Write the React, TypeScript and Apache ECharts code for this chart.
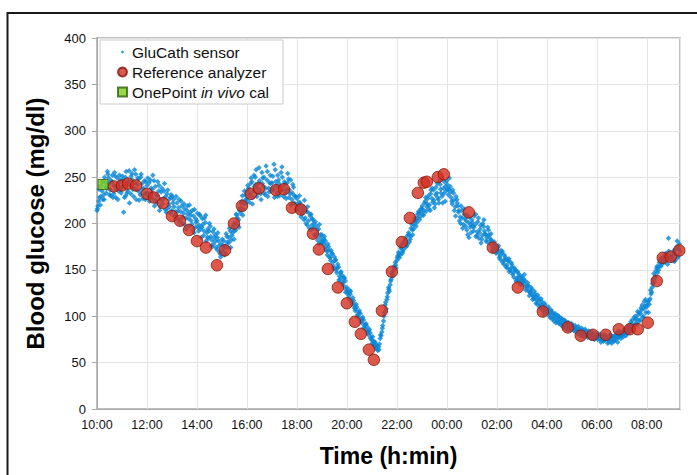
import React, { useEffect, useRef } from "react";
import * as echarts from "echarts";

// ---- data (hours since 10:00, mg/dl) ----
const xTickLabels = ["10:00", "12:00", "14:00", "16:00", "18:00", "20:00", "22:00", "00:00", "02:00", "04:00", "06:00", "08:00"];
const xMaxHours = 23.33;

// GluCath sensor readings, one every 4 minutes starting at 10:00 (one row per hour)
const sensorStepMin = 4;
const sensorValuesA = [
  214, 224, 220, 235, 231, 244, 238, 249, 236, 245, 232, 251, 240, 235, 247,
  239, 212, 250, 233, 246, 241, 254, 229, 244, 236, 248, 231, 243, 238, 226,
  241, 229, 247, 233, 226, 240, 222, 235, 218, 238, 227, 215, 232, 221, 228,
  214, 226, 209, 222, 217, 204, 219, 211, 198, 214, 205, 212, 199, 208, 196,
  203, 192, 208, 196, 187, 201, 190, 184, 197, 182, 178, 188, 172, 181, 167,
  170, 181, 176, 186, 179, 192, 187, 199, 201, 209, 204, 217, 224, 215, 231,
  226, 238, 232, 245, 235, 250, 229, 243, 236, 255, 240, 231, 247, 238, 252,
  244, 236, 258, 233, 247, 240, 261, 229, 243, 237, 248, 232, 226, 239, 221,
  227, 214, 222, 210, 218, 206, 213, 203, 208, 198, 195, 202, 189, 194, 185,
  188, 178, 181, 170, 175, 163, 168, 154, 160, 147, 153, 140, 144, 133, 138,
  131, 122, 124, 113, 117, 106, 110, 99, 103, 93, 96, 86, 89, 80, 82,
  74, 70, 72, 65, 67, 76, 83, 95, 112, 118, 131, 134, 147, 149, 158,
  160, 169, 166, 178, 172, 184, 176, 190, 183, 199, 194, 206, 201, 213, 207,
  216, 209, 224, 218, 230, 214, 227, 236, 221, 233, 226, 242, 229, 238, 224,
  246, 231, 240, 224, 233, 218, 226, 212, 207, 214, 199, 205, 193, 201, 196,
  204, 192, 199, 187, 206, 194, 183, 197, 189, 185, 193, 178, 182, 171, 176,
  170, 176, 165, 168, 160, 164, 155, 159, 151, 156, 147, 150, 141, 146, 139,
  142, 135, 138, 130, 133, 126, 129, 121, 124, 117, 120, 113, 116, 109, 112,
  106, 110, 102, 105, 99, 103, 96, 100, 94, 97, 91, 95, 90, 93, 88,
  92, 87, 90, 85, 89, 83, 87, 82, 86, 80, 84, 79, 83, 78, 81,
  77, 81, 75, 79, 73, 78, 76, 74, 80, 71, 78, 75, 82, 77, 80,
  83, 78, 86, 81, 89, 84, 92, 87, 97, 91, 102, 96, 107, 100, 111,
  110, 104, 119, 126, 140, 143, 152, 150, 161, 156, 164, 159, 166, 184, 163,
  162, 168, 160, 175, 165, 170,
];
// second set of sensor readings, 1 minute after each of the first set
const sensorOffsetMinB = 1;
const sensorValuesB = [
  216, 237, 229, 245, 226, 239, 256, 243, 230, 252, 241, 228, 249, 244, 236,
  251, 241, 230, 244, 257, 232, 247, 238, 253, 242, 225, 250, 237, 231, 245,
  233, 244, 228, 237, 246, 225, 230, 241, 226, 221, 235, 229, 216, 226, 211,
  229, 218, 213, 205, 226, 213, 200, 221, 206, 219, 197, 209, 214, 190, 205,
  211, 198, 194, 205, 192, 209, 185, 192, 186, 175, 194, 181, 185, 176, 164,
  183, 173, 168, 180, 185, 174, 190, 183, 193, 206, 196, 211, 230, 221, 226,
  235, 230, 243, 221, 252, 242, 238, 260, 232, 243, 250, 238, 256, 234, 243,
  238, 264, 245, 229, 243, 236, 250, 241, 233, 244, 228, 247, 233, 222, 229,
  216, 223, 218, 212, 204, 214, 198, 211, 193, 205, 200, 186, 193, 178, 188,
  179, 183, 175, 166, 171, 160, 167, 151, 161, 152, 139, 147, 135, 142, 126,
  126, 119, 127, 115, 112, 108, 100, 104, 94, 97, 88, 91, 82, 84, 76,
  71, 73, 66, 68, 64, 80, 87, 100, 115, 121, 129, 138, 145, 152, 155,
  163, 167, 175, 168, 179, 182, 178, 188, 186, 193, 199, 203, 206, 211, 213,
  219, 214, 228, 221, 216, 232, 238, 225, 231, 243, 222, 237, 249, 232, 240,
  242, 237, 234, 221, 225, 208, 222, 214, 200, 206, 216, 197, 209, 185, 199,
  201, 196, 210, 191, 184, 198, 187, 204, 188, 180, 188, 182, 170, 177, 172,
  172, 168, 161, 170, 156, 161, 152, 162, 149, 153, 142, 150, 139, 143, 134,
  139, 140, 132, 133, 127, 125, 123, 119, 121, 113, 117, 108, 112, 102, 108,
  104, 105, 98, 103, 95, 99, 94, 97, 91, 93, 88, 92, 86, 89, 85,
  90, 85, 86, 83, 84, 81, 82, 78, 84, 79, 81, 77, 79, 76, 77,
  79, 76, 78, 74, 80, 75, 77, 72, 79, 76, 73, 80, 77, 84, 79,
  81, 82, 84, 85, 90, 88, 96, 90, 100, 97, 104, 103, 112, 108, 118,
  112, 117, 128, 131, 146, 142, 154, 153, 159, 163, 158, 166, 161, 170, 165,
  164, 171, 167, 181, 173,
];
// third set of sensor readings, 2 minutes after each of the first set
const sensorOffsetMinC = 2;
const sensorValuesC = [
  219, 228, 241, 226, 250, 233, 253, 231, 246, 228, 255, 237, 226, 252, 233,
  247, 228, 256, 235, 222, 251, 237, 258, 226, 249, 234, 253, 227, 246, 233,
  249, 224, 238, 252, 219, 231, 245, 214, 234, 226, 243, 212, 236, 218, 231,
  222, 208, 229, 213, 201, 224, 207, 216, 194, 210, 220, 203, 193, 215, 201,
  196, 210, 185, 199, 206, 181, 194, 200, 176, 191, 185, 174, 190, 169, 178,
  176, 166, 189, 174, 195, 182, 196, 192, 210, 198, 214, 222, 209, 235, 222,
  241, 223, 249, 228, 240, 258, 233, 246, 226, 249, 233, 262, 229, 244, 235,
  251, 228, 240, 252, 230, 255, 236, 245, 227, 254, 236, 220, 242, 230, 215,
  220, 230, 207, 216, 225, 200, 218, 195, 210, 204, 188, 197, 182, 199, 180,
  182, 186, 172, 178, 164, 171, 158, 164, 150, 156, 143, 148, 137, 141, 129,
  125, 128, 117, 120, 109, 113, 102, 106, 96, 99, 90, 92, 84, 86, 77,
  78, 68, 69, 63, 70, 79, 90, 104, 108, 125, 127, 140, 143, 154, 152,
  165, 163, 173, 170, 181, 175, 187, 180, 195, 188, 203, 197, 210, 204, 216,
  210, 222, 213, 227, 220, 236, 223, 217, 239, 228, 246, 233, 222, 245, 235,
  237, 249, 228, 236, 214, 229, 219, 203, 219, 195, 210, 203, 188, 207, 190,
  197, 208, 186, 202, 190, 179, 200, 192, 181, 196, 185, 189, 174, 180, 168,
  174, 163, 171, 158, 166, 153, 161, 148, 158, 145, 152, 138, 148, 136, 143,
  137, 145, 128, 136, 122, 131, 118, 127, 114, 123, 110, 119, 106, 114, 104,
  108, 100, 107, 97, 102, 93, 101, 92, 98, 89, 96, 87, 93, 86, 91,
  89, 84, 88, 81, 86, 79, 85, 80, 83, 77, 82, 76, 80, 75, 78,
  75, 79, 72, 77, 74, 79, 71, 76, 73, 78, 74, 79, 72, 81, 76,
  80, 85, 79, 88, 83, 94, 85, 99, 93, 105, 95, 109, 99, 116, 104,
  115, 113, 124, 135, 137, 149, 147, 158, 154, 162, 160, 168, 156, 165, 160,
  166, 159, 172, 163, 178,
];

// Reference analyzer samples
const refTimes = [
  0.68, 1.0, 1.24, 1.56, 2.0, 2.28, 2.64, 3.0, 3.32, 3.68, 4.0, 4.36, 4.8, 5.12, 5.48, 5.8,
  6.16, 6.48, 7.16, 7.48, 7.8, 8.16, 8.64, 8.88, 9.24, 9.64, 10.0, 10.32, 10.56, 10.88, 11.08,
  11.4, 11.8, 12.2, 12.52, 12.84, 13.08, 13.2, 13.64, 13.88, 14.88, 15.84, 16.84, 17.84,
  18.84, 19.36, 19.84, 20.36, 20.88, 21.32, 21.64, 22.04, 22.4, 22.64, 22.96, 23.3,
];
const refValues = [
  240, 241, 243, 241, 232, 228, 222, 208, 203, 193, 181, 174, 155, 171, 200, 219,
  232, 238, 236, 237, 217, 215, 189, 172, 151, 131, 114, 94, 81, 64, 53,
  106, 148, 180, 206, 233, 244, 245, 250, 253, 212, 174, 131, 105,
  88, 79, 80, 80, 86, 86, 86, 93, 138, 163, 164, 171,
];

// OnePoint in vivo calibration
const calTimes = [0.24];
const calValues = [242];

const FONT = "'Liberation Sans', Arial, Helvetica, sans-serif";

export default function App() {
  const ref = useRef<HTMLDivElement>(null);

  useEffect(() => {
    if (!ref.current) return;
    const chart = echarts.init(ref.current, undefined, { renderer: "svg" });

    const sensorData = [
      ...sensorValuesA.map((v, i) => [(i * sensorStepMin) / 60, v]),
      ...sensorValuesB.map((v, i) => [(i * sensorStepMin + sensorOffsetMinB) / 60, v]),
      ...sensorValuesC.map((v, i) => [(i * sensorStepMin + sensorOffsetMinC) / 60, v]),
    ];
    const refData = refTimes.map((t, i) => [t, refValues[i]]);
    const calData = calTimes.map((t, i) => [t, calValues[i]]);

    chart.setOption({
      animation: false,
      backgroundColor: "#ffffff",
      textStyle: { fontFamily: FONT },
      graphic: [
        {
          type: "rect",
          shape: { x: 7.5, y: 13, width: 720, height: 500 },
          style: { fill: "none", stroke: "#1a1a1a", lineWidth: 2 },
          silent: true,
          z: 100,
        },
      ],
      grid: {
        left: 97,
        top: 38,
        right: 17,
        bottom: 66,
        show: true,
        borderColor: "#ababab",
        borderWidth: 1.5,
        backgroundColor: "transparent",
      },
      legend: {
        left: 100,
        top: 40,
        orient: "vertical",
        backgroundColor: "#ffffff",
        borderColor: "#c9c9c9",
        borderWidth: 1,
        borderRadius: 0,
        padding: [4, 14, 4, 17],
        itemGap: 4,
        itemWidth: 9,
        itemHeight: 9,
        textStyle: {
          fontFamily: FONT,
          fontSize: 15.5,
          color: "#111",
          lineHeight: 16,
          rich: { i: { fontStyle: "italic", fontSize: 15.5, fontFamily: FONT, color: "#111", lineHeight: 16 } },
        },
        formatter: (name: string) => (name === "OnePoint in vivo cal" ? "OnePoint {i|in vivo} cal" : name),
        data: [
          { name: "GluCath sensor", icon: "path://M0,0M9,9M2.8,4.5L4.5,2.8L6.2,4.5L4.5,6.2Z" },
          { name: "Reference analyzer", icon: "circle" },
          { name: "OnePoint in vivo cal", icon: "rect" },
        ],
      },
      xAxis: {
        type: "value",
        min: 0,
        max: xMaxHours,
        interval: 2,
        name: "Time (h:min)",
        nameLocation: "middle",
        nameGap: 35,
        nameTextStyle: { fontFamily: FONT, fontSize: 23, fontWeight: "bold", color: "#000" },
        axisLine: { show: true, lineStyle: { color: "#a8a8a8", width: 1 } },
        axisTick: { show: false },
        axisLabel: {
          margin: 9,
          fontSize: 12.5,
          color: "#111",
          fontFamily: FONT,
          showMaxLabel: false,
          formatter: (v: number) => {
            const idx = Math.round(v / 2);
            return Math.abs(v - idx * 2) < 1e-6 ? xTickLabels[idx] ?? "" : "";
          },
        },
        splitLine: { show: true, lineStyle: { color: "#e4e4e4", width: 1 } },
      },
      yAxis: {
        type: "value",
        min: 0,
        max: 400,
        interval: 50,
        name: "Blood glucose (mg/dl)",
        nameLocation: "middle",
        nameGap: 50,
        nameTextStyle: { fontFamily: FONT, fontSize: 24, fontWeight: "bold", color: "#000" },
        axisLine: { show: true, lineStyle: { color: "#a8a8a8", width: 1 } },
        axisTick: { show: true, length: 5, lineStyle: { color: "#a8a8a8" } },
        axisLabel: { margin: 11, fontSize: 13, color: "#111", fontFamily: FONT },
        splitLine: { show: true, lineStyle: { color: "#e4e4e4", width: 1 } },
      },
      series: [
        {
          name: "GluCath sensor",
          type: "scatter",
          symbol: "diamond",
          symbolSize: 5.5,
          itemStyle: { color: "#0786d6" },
          data: sensorData,
          z: 2,
        },
        {
          name: "Reference analyzer",
          type: "scatter",
          symbol: "circle",
          symbolSize: 11.5,
          itemStyle: { color: "#d6301f", borderColor: "#7f170d", borderWidth: 1 },
          data: refData,
          z: 3,
        },
        {
          name: "OnePoint in vivo cal",
          type: "scatter",
          symbol: "rect",
          symbolSize: 10,
          itemStyle: { color: "#7dcf1d", borderColor: "#2e5e0a", borderWidth: 1 },
          data: calData,
          z: 4,
        },
      ],
    });

    return () => chart.dispose();
  }, []);

  return (
    <div
      ref={ref}
      style={{ position: "fixed", left: 0, top: 0, width: 697, height: 475 }}
    />
  );
}
